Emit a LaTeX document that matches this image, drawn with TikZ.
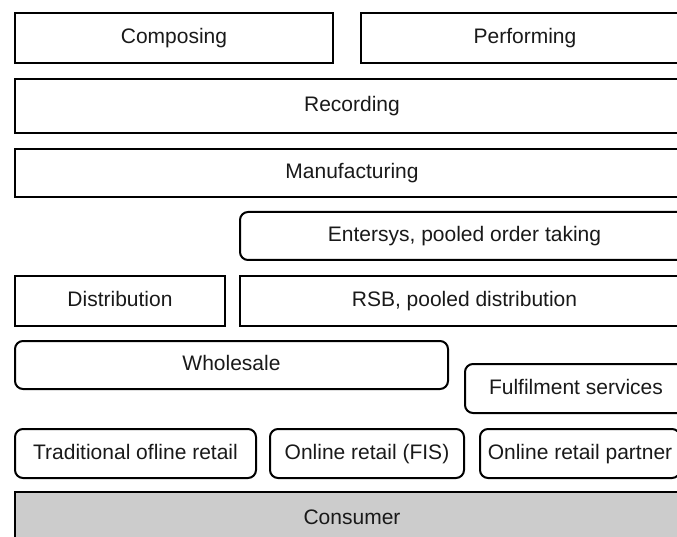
\documentclass[tikz,border=0pt]{standalone}
\usepackage{fontspec}
\setmainfont{Liberation Sans}
\begin{document}
\begin{tikzpicture}[x=1pt,y=-1pt,
  every node/.style={font=\fontsize{21}{25}\selectfont, text=black!90,
    text height=15pt, text depth=4pt},
  box/.style={draw=black, line width=2pt, rectangle, inner sep=0pt, outer sep=0pt},
  rbox/.style={box, rounded corners=8pt},
  sbox/.style={box, fill=black!20}]
\useasboundingbox (0,0) rectangle (677,537);
\clip (0,0) rectangle (677,537);
% creative layer
\node[box, minimum width=318pt, minimum height=50pt] (comp) at (174,38) {Composing};
\node[box, minimum width=328pt, minimum height=50pt] (perf) at (525,38) {Performing};
\node[box, minimum width=674pt, minimum height=54pt] (rec) at (352,106) {Recording};
\node[box, minimum width=674pt, minimum height=48pt] (manu) at (352,173) {Manufacturing};
% distribution layer
\node[rbox, minimum width=449pt, minimum height=48pt] (ent) at (464.5,236) {Entersys, pooled order taking};
\node[box, minimum width=210pt, minimum height=50pt] (dist) at (120,301) {Distribution};
\node[box, minimum width=449pt, minimum height=50pt] (rsb) at (464.5,301) {RSB, pooled distribution};
\node[rbox, minimum width=433pt, minimum height=48pt] (whole) at (231.5,365) {Wholesale};
\node[rbox, minimum width=222pt, minimum height=49pt] (ful) at (576,388.5) {Fulfilment services};
% retail layer
\node[rbox, minimum width=241pt, minimum height=49pt] (trad) at (135.5,453.5) {Traditional ofline retail};
\node[rbox, minimum width=194pt, minimum height=49pt] (fis) at (367,453.5) {Online retail (FIS)};
\node[rbox, minimum width=200pt, minimum height=49pt] (partner) at (580,453.5) {Online retail partner};
% end customer
\node[sbox, minimum width=674pt, minimum height=54pt] (cons) at (352,519) {Consumer};
\end{tikzpicture}
\end{document}
